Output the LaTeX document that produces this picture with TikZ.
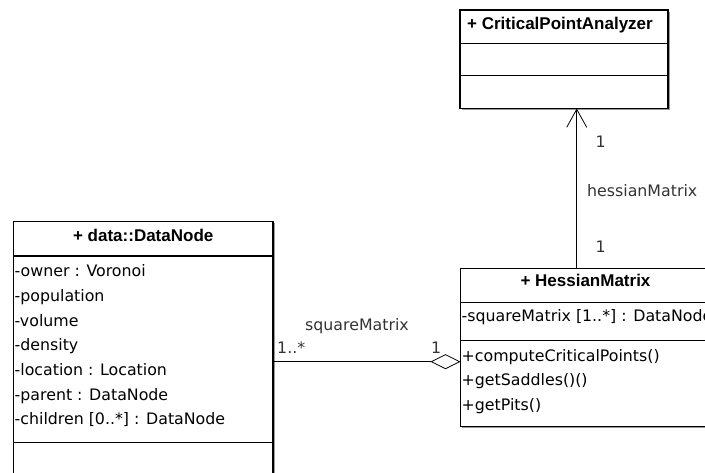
\documentclass[tikz,border=0pt]{standalone}
\usepackage{fontspec}
\setmainfont{DejaVu Sans}
\newfontfamily\headfont{Liberation Sans}
\usetikzlibrary{arrows.meta,positioning,shadows}
\newcommand{\membfont}{\fontsize{15.8}{18}\selectfont}
\newcommand{\headfontsize}{\headfont\bfseries\fontsize{17}{18}\selectfont}

\begin{document}
\begin{tikzpicture}[x=1pt,y=-1pt,
  compart/.style={draw,fill=white,line width=1.1pt,inner sep=0pt,outer sep=0pt,
    general shadow={fill=black!40,shadow xshift=1.6pt,shadow yshift=-1.6pt}},
  headtext/.style={anchor=base,inner sep=0pt,font=\headfontsize},
  membtext/.style={anchor=base west,inner sep=0pt,font=\membfont},
  roletext/.style={anchor=base west,inner sep=0pt,font=\membfont,text=black!80},
  assoc/.style={line width=0.8pt,-{Straight Barb[length=18pt,width=20pt]}},
  aggr/.style={line width=0.8pt,-{Diamond[open,length=30pt,width=15pt]}}]
\clip (0,0) rectangle (705,473);
% data::DataNode
\node[compart,minimum width=259.5,minimum height=34.5,anchor=north west] (dataHead) at (13.5,221.5) {};
\node[compart,minimum width=259.5,minimum height=186.5,below=0pt of dataHead] (dataAttr) {};
\node[compart,minimum width=259.5,minimum height=60,below=0pt of dataAttr] (dataOps) {};
\node[headtext] (dataTitle) at (143.25,241.7) {+ data::DataNode};
\foreach \txt [count=\i from 0] in {{-owner : Voronoi},{-population},{-volume},{-density},
    {-location : Location},{-parent : DataNode},{-children [0..*] : DataNode}}
  \node[membtext] (dataRow\i) at (14.5,276.7+24.7*\i) {\txt};
% HessianMatrix
\node[compart,minimum width=250,minimum height=34.5,anchor=north west] (hessHead) at (460.5,268.3) {};
\node[compart,minimum width=250,minimum height=37.5,below=0pt of hessHead] (hessAttr) {};
\node[compart,minimum width=250,minimum height=86.5,below=0pt of hessAttr] (hessOps) {};
\node[headtext] (hessTitle) at (585.5,287) {+ HessianMatrix};
\node[membtext] (hessRow) at (461.5,321.7) {-squareMatrix [1..*] : DataNode};
\foreach \txt [count=\i from 0] in {{+computeCriticalPoints()},{+getSaddles()()},{+getPits()}}
  \node[membtext] (hessOp\i) at (461.5,361.5+24.3*\i) {\txt};
% CriticalPointAnalyzer
\node[compart,minimum width=208,minimum height=33.5,anchor=north west] (cpaHead) at (460,10) {};
\node[compart,minimum width=208,minimum height=32.2,below=0pt of cpaHead] (cpaAttr) {};
\node[compart,minimum width=208,minimum height=32.8,below=0pt of cpaAttr] (cpaOps) {};
\node[headtext] (cpaTitle) at (560,30) {+ CriticalPointAnalyzer};
% connectors
\draw[assoc] ([xshift=-8.8pt]hessHead.north) -- ([xshift=-8.8pt]hessHead.north |- cpaOps.south);
\node[roletext] (hmTop) at (595.5,148) {1};
\node[roletext] (hmName) at (587,197) {hessianMatrix};
\node[roletext] (hmBot) at (595.5,253) {1};
\coordinate (aggY) at (0,361.7);
\draw[aggr] (aggY -| dataAttr.east) -- (aggY -| hessOps.west);
\node[roletext] (smName) at (305,330.7) {squareMatrix};
\node[roletext] (smMany) at (277,353.3) {1..*};
\node[roletext] (smOne) at (431,353.3) {1};
\end{tikzpicture}
\end{document}
